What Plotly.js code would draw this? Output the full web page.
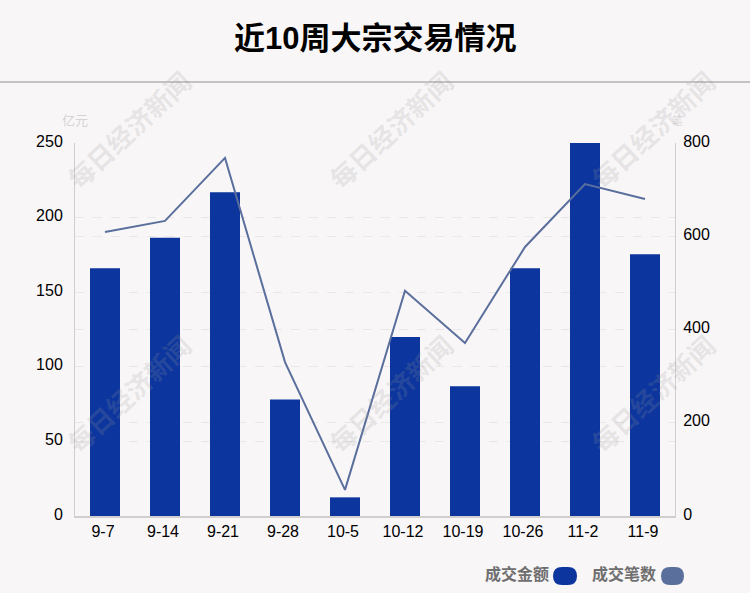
<!DOCTYPE html>
<html><head><meta charset="utf-8">
<script src="https://cdn.plot.ly/plotly-3.0.1.min.js"></script>
<style>html,body{margin:0;padding:0;background:#f9f6f8}</style></head>
<body><div id="chart" style="width:750px;height:593px"></div>
<script>
const categories=['9-7','9-14','9-21','9-28','10-5','10-12','10-19','10-26','11-2','11-9'];
const amount=[166,186.5,217,78,12.5,120,87,166,250,175.5];
const deals=[609,633,768,330,56,483,371,577,712,680];
const leftTicks=[0,50,100,150,200,250];
const rightTicks=[0,200,400,600,800];
const titleText='近10周大宗交易情况';
const watermark='每日经济新闻';
const FONT='"Liberation Sans","Noto Sans CJK SC",sans-serif';
const W=750,H=593,L=75,R=675,T=143,B=516;
const px=x=>(x-L)/(R-L), py=y=>(B-y)/(B-T);
function pill(x0,x1,y0,y1,color){
  const r=(y1-y0)/2, m=(y0+y1)/2;
  const p=`M${px(x0+r)},${py(y0)} L${px(x1-r)},${py(y0)} Q${px(x1)},${py(y0)} ${px(x1)},${py(m)} Q${px(x1)},${py(y1)} ${px(x1-r)},${py(y1)} L${px(x0+r)},${py(y1)} Q${px(x0)},${py(y1)} ${px(x0)},${py(m)} Q${px(x0)},${py(y0)} ${px(x0+r)},${py(y0)} Z`;
  return {type:'path',xref:'paper',yref:'paper',path:p,fillcolor:color,line:{width:0},layer:'above'};
}
function note(text,x,y,size,color,extra){
  return Object.assign({text,xref:'paper',yref:'paper',x:px(x),y:py(y),showarrow:false,xanchor:'center',yanchor:'middle',font:{family:FONT,size,color}},extra||{});
}
const wmPos=[[130,131],[392,131],[654,131],[130,395],[392,395],[654,395]];
const annotations=[
  note('<b>'+titleText+'</b>',374.5,38,31,'#000'),
  note('亿元',75,121,13,'#d5d3d4'),
  note('笔',677,121,11,'#dedcdd'),
  note('<b>成交金额</b>',516.5,573.5,16,'#6f6f6f'),
  note('<b>成交笔数</b>',624,573.5,16,'#6f6f6f')
].concat(wmPos.map(p=>note('<b>'+watermark+'</b>',p[0],p[1],26,'rgba(150,150,150,0.2)',{textangle:-43})));
const shapes=[
  {type:'line',xref:'paper',yref:'paper',x0:px(0),x1:px(W),y0:py(82),y1:py(82),line:{color:'#c4c2c2',width:2}},
  pill(553,577,567,585,'#0c359e'),
  pill(661,684,567,585,'#5a6f9c')
];
const traces=[
  {type:'bar',name:'成交金额',x:categories,y:amount,width:0.5,marker:{color:'#0c359e',line:{width:0}},hoverinfo:'skip'},
  {type:'scatter',mode:'lines',name:'成交笔数',x:categories,y:deals,yaxis:'y2',line:{color:'#5a6f9c',width:2},hoverinfo:'skip'}
];
const axisFont={family:FONT,size:16,color:'#000'};
const layout={
  width:W,height:H,margin:{l:L,r:W-R,t:T,b:H-B,pad:0},
  paper_bgcolor:'#f9f6f8',plot_bgcolor:'#f9f6f8',showlegend:false,
  xaxis:{type:'category',tickmode:'array',tickvals:categories,ticktext:categories,range:[-0.5,9.5],
    showgrid:false,zeroline:false,showline:true,linecolor:'#d0cece',linewidth:2,ticks:'',tickfont:axisFont,ticklabelshift:-2,ticklabelstandoff:0},
  yaxis:{range:[0,250],tickmode:'array',tickvals:leftTicks,showgrid:true,griddash:'dash',gridcolor:'#e9e7e8',gridwidth:1,
    zeroline:false,showline:true,linecolor:'#d0cece',linewidth:1,ticks:'',tickfont:axisFont,ticklabelshift:-2,ticklabelstandoff:8},
  yaxis2:{range:[0,800],overlaying:'y',side:'right',tickmode:'array',tickvals:rightTicks,showgrid:true,griddash:'dash',gridcolor:'#e9e7e8',gridwidth:1,
    zeroline:false,showline:true,linecolor:'#d0cece',linewidth:1,ticks:'',tickfont:axisFont,ticklabelshift:-2,ticklabelstandoff:4},
  shapes,annotations
};
Plotly.newPlot('chart',traces,layout,{displayModeBar:false,staticPlot:true});
</script></body></html>
